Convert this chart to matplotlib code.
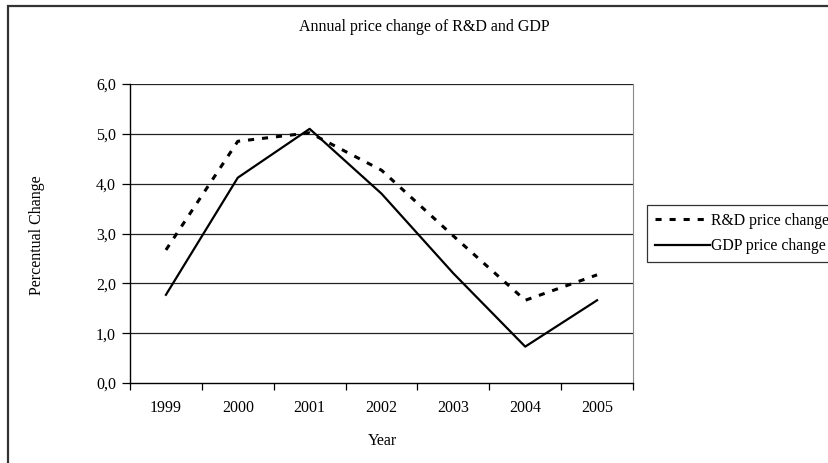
import matplotlib
matplotlib.use("Agg")
import matplotlib.pyplot as plt
from matplotlib.patches import Rectangle
from matplotlib.ticker import FixedLocator, FuncFormatter

plt.rcParams["font.family"] = ["Liberation Serif", "DejaVu Serif"]
plt.rcParams["font.size"] = 11.5

# Annual price change, percent
years = ["1999", "2000", "2001", "2002", "2003", "2004", "2005"]
rd_change = [2.67, 4.85, 5.02, 4.27, 2.95, 1.66, 2.17]
gdp_change = [1.77, 4.12, 5.10, 3.80, 2.20, 0.73, 1.66]
y_ticks = [0, 1, 2, 3, 4, 5, 6]

fig = plt.figure(figsize=(8.29, 4.63), dpi=100)
ax = fig.add_axes([130 / 829, 80 / 463, 503 / 829, 299 / 463])

x = list(range(len(years)))
ax.plot(x, rd_change, color="black", linewidth=2.2,
        linestyle=(0, (2.0, 2.6)), label="R&D price change")
ax.plot(x, gdp_change, color="black", linewidth=1.6,
        label="GDP price change")

ax.set_xlim(-0.5, len(years) - 0.5)
ax.set_ylim(0, 6)

# category ticks sit between the years, labels in the middle
ax.xaxis.set_major_locator(FixedLocator([i - 0.5 for i in range(len(years) + 1)]))
ax.xaxis.set_minor_locator(FixedLocator(x))
ax.set_xticklabels([])
ax.set_xticklabels(years, minor=True)
ax.tick_params(axis="x", which="major", direction="out", length=5, width=0.9)
ax.tick_params(axis="x", which="minor", length=0, pad=12)

ax.set_yticks(y_ticks)
ax.yaxis.set_major_formatter(FuncFormatter(lambda v, p: f"{v:.1f}".replace(".", ",")))
ax.tick_params(axis="y", direction="out", length=6, width=0.9, pad=4)

for v in y_ticks[1:]:
    ax.axhline(v, color="#222222", linewidth=0.9, zorder=0)

ax.spines["left"].set_linewidth(1.0)
ax.spines["bottom"].set_linewidth(1.0)
ax.spines["right"].set_color("#888888")
ax.spines["top"].set_visible(False)

fig.text(424 / 829, 1 - 27 / 463, "Annual price change of R&D and GDP",
         ha="center", va="center", fontsize=11.5)
fig.text(37 / 829, 1 - 235 / 463, "Percentual Change", rotation=90,
         ha="center", va="center", fontsize=11.5)
fig.text(382 / 829, 1 - 441 / 463, "Year", ha="center", va="center", fontsize=11.5)

leg = fig.legend(loc="upper left", bbox_to_anchor=(647 / 829, 1 - 205 / 463),
                 frameon=True, fancybox=False, edgecolor="black",
                 handlelength=3.5, handletextpad=0.1, borderpad=0.5,
                 labelspacing=0.6, borderaxespad=0, fontsize=11.3)
leg.get_frame().set_linewidth(0.9)

# chart border
fig.patches.append(Rectangle((8 / 829, -0.1), 1.2, 1 - 6 / 463 + 0.1,
                             transform=fig.transFigure, fill=False,
                             edgecolor="#333333", linewidth=1.6))

fig.savefig("out.png", dpi=100)
